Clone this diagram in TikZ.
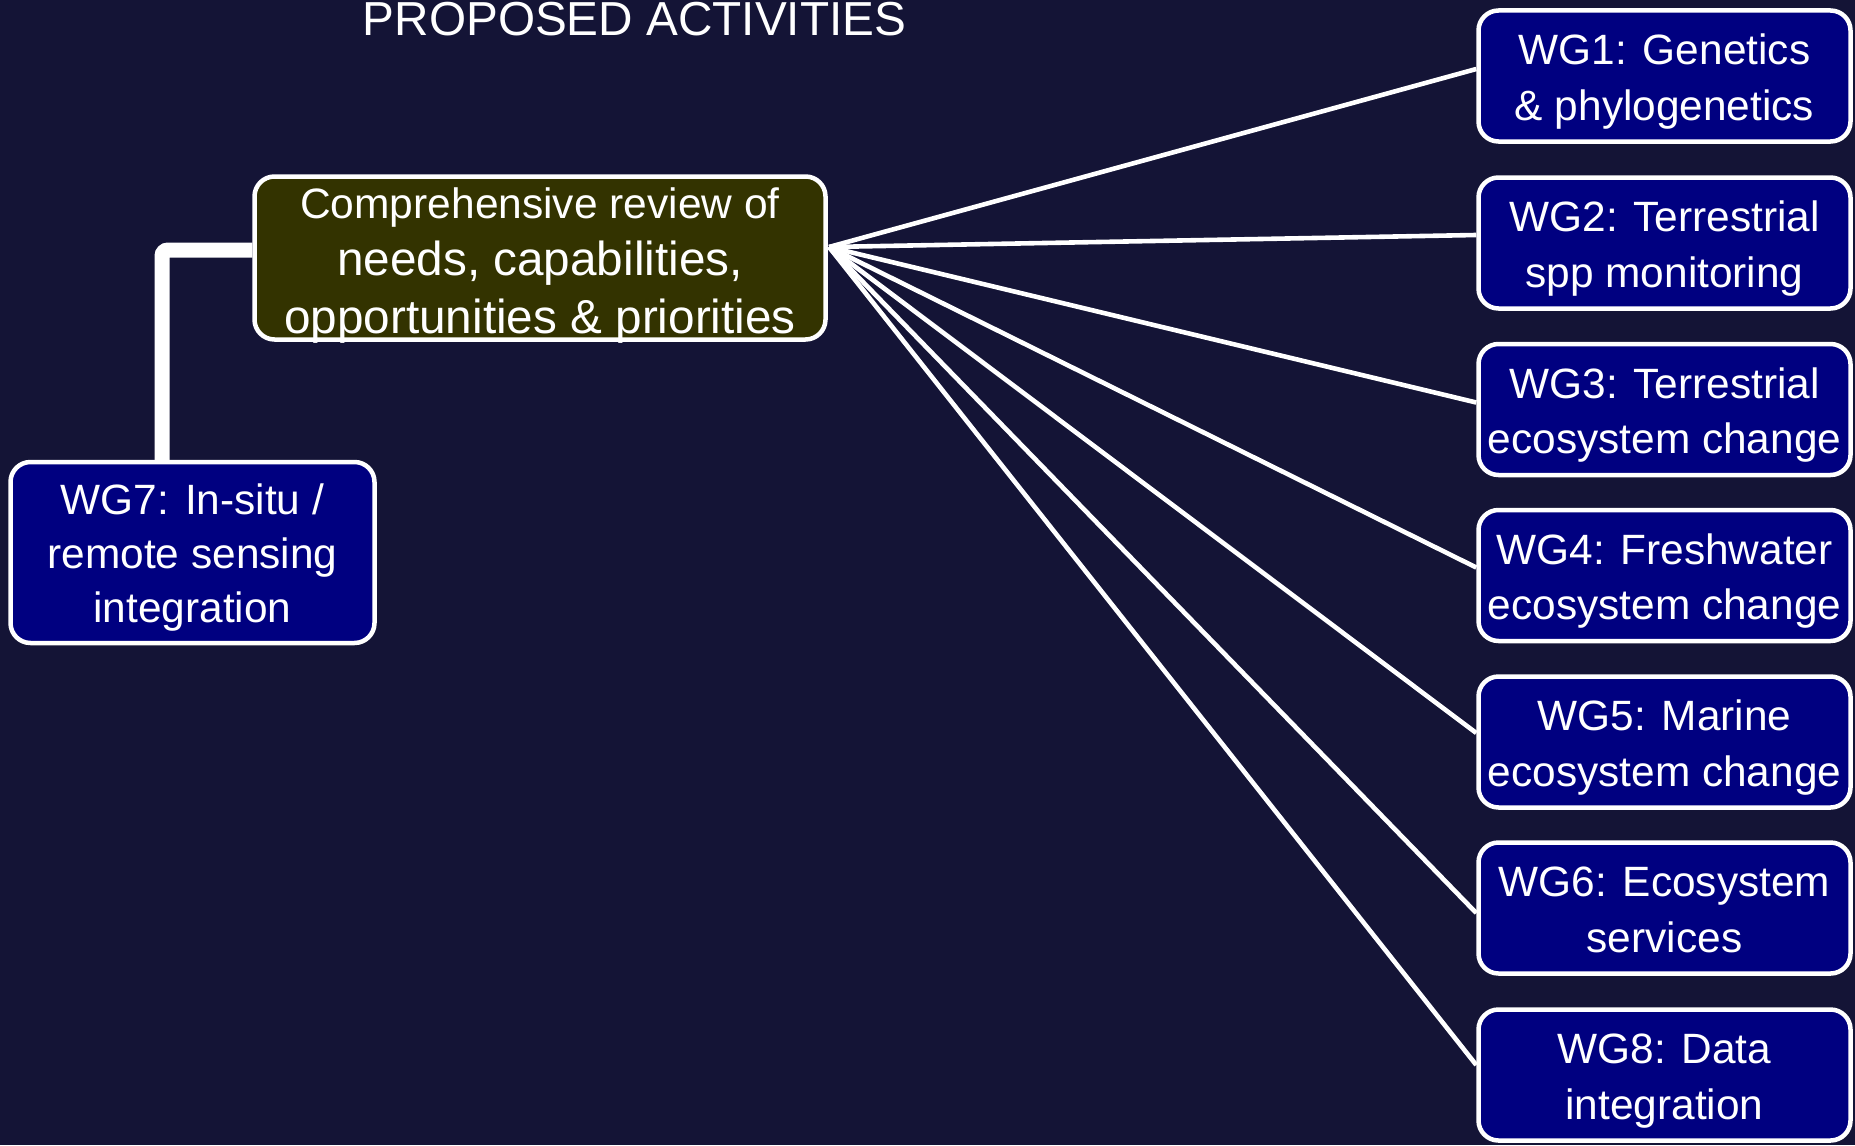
\documentclass[tikz,border=0pt]{standalone}
\usepackage{fontspec}
\setmainfont{Liberation Sans}
\definecolor{bgc}{HTML}{141436}
\definecolor{navyc}{HTML}{000080}
\definecolor{olivec}{HTML}{333300}
\newcommand\tstr[1]{\rule{0pt}{#1}}
\newcommand\bstr{\rule[-6pt]{0pt}{6pt}}
\tikzset{
  wgbox/.style={draw=white, line width=2.25pt, fill=navyc, rounded corners=10pt,
    text=white, align=center, inner sep=0pt, minimum width=186pt, minimum height=65.5pt,
    font=\fontsize{21.2}{27.75}\selectfont},
  fanline/.style={draw=white, line width=2.3pt},
  thickline/.style={draw=white, line width=7.5pt, rounded corners=3pt}
}
\begin{document}
\begin{tikzpicture}[x=0.5pt, y=-0.5pt]
\fill[bgc] (0,0) rectangle (1855,1145);
\useasboundingbox (0,0) rectangle (1855,1145);

\node[anchor=base, text=white, font=\fontsize{23.85}{28}\selectfont, inner sep=0pt] (title) at (634.5,35.5) {PROPOSED ACTIVITIES};

\node[wgbox, fill=olivec, minimum width=285.5pt, minimum height=81.5pt, text depth=0pt,
      font=\fontsize{23.85}{28.75}\selectfont] (review) at (540,258)
  {\tstr{17.5pt}{\fontsize{21.25}{28.75}\selectfont Comprehensive review of}\\
   needs, capabilities,\\
   opportunities \& priorities};

\node[wgbox, minimum width=182pt, minimum height=90.5pt,
      font=\fontsize{21.2}{26.9}\selectfont] (wg7) at (192.5,552.5)
  {\tstr{22pt}WG7: In-situ /\\ remote sensing\\ integration\bstr};

\node[wgbox] (wg1) at (1664.5,76) {\tstr{22.5pt}WG1: Genetics\\ \& phylogenetics\bstr};
\node[wgbox] (wg2) at (1664.5,243) {\tstr{22.5pt}WG2: Terrestrial\\ spp monitoring\bstr};
\node[wgbox] (wg3) at (1664.5,409.5) {\tstr{22.5pt}WG3: Terrestrial\\ ecosystem change\bstr};
\node[wgbox] (wg4) at (1664.5,575.5) {\tstr{22.5pt}WG4: Freshwater\\ ecosystem change\bstr};
\node[wgbox] (wg5) at (1664.5,742) {\tstr{22.5pt}WG5: Marine\\ ecosystem change\bstr};
\node[wgbox] (wg6) at (1664.5,908) {\tstr{22.5pt}WG6: Ecosystem\\ services\bstr};
\node[wgbox] (wg8) at (1664.5,1075) {\tstr{22.5pt}WG8: Data\\ integration\bstr};

\coordinate (hub) at (829,247);
\coordinate (c7) at (162,461);

\draw[thickline] (c7) |- ([yshift=4pt]review.west);

\draw[fanline] (hub) -- ([yshift=3.5pt]wg1.west);
\draw[fanline] (hub) -- ([yshift=4pt]wg2.west);
\draw[fanline] (hub) -- ([yshift=3.5pt]wg3.west);
\draw[fanline] (hub) -- ([yshift=4pt]wg4.west);
\draw[fanline] (hub) -- ([yshift=4.5pt]wg5.west);
\draw[fanline] (hub) -- ([yshift=-2.5pt]wg6.west);
\draw[fanline] (hub) -- ([yshift=5pt]wg8.west);
\end{tikzpicture}
\end{document}
